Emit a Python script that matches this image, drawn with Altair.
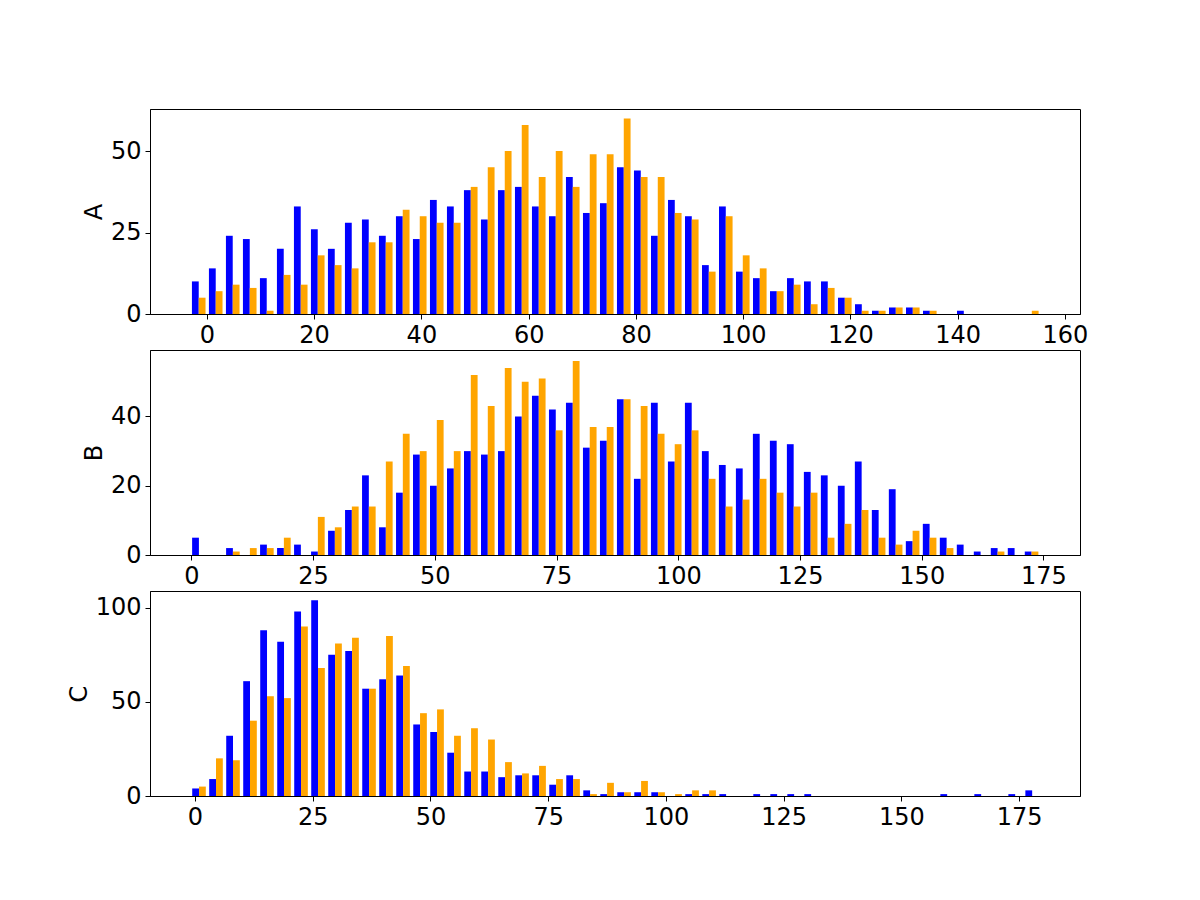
import altair as alt
import pandas as pd

# counts per bin (50 bins per panel), blue = first series, orange = second
a_blue = [10, 14, 24, 23, 11, 20, 33, 26, 20, 28, 29, 24, 30, 23, 35, 33, 38, 29, 38, 39,
          33, 30, 42, 31, 34, 45, 44, 24, 35, 30, 15, 33, 13, 11, 7, 11, 10, 10, 5, 3,
          1, 2, 2, 1, 0, 1, 0, 0, 0, 0]
a_orange = [5, 7, 9, 8, 1, 12, 9, 18, 15, 14, 22, 22, 32, 30, 28, 28, 39, 45, 50, 58,
            42, 50, 39, 49, 49, 60, 42, 42, 31, 29, 13, 30, 18, 14, 7, 9, 3, 8, 5, 1,
            1, 2, 2, 1, 0, 0, 0, 0, 0, 1]
b_blue = [5, 0, 2, 0, 3, 2, 3, 1, 7, 13, 23, 8, 18, 29, 20, 25, 30, 29, 30, 40,
          46, 42, 44, 31, 33, 45, 22, 44, 27, 44, 30, 26, 25, 35, 33, 32, 24, 23, 20, 27,
          13, 19, 4, 9, 5, 3, 1, 2, 2, 1]
b_orange = [0, 0, 1, 2, 2, 5, 0, 11, 8, 14, 14, 27, 35, 30, 39, 30, 52, 43, 54, 50,
            51, 36, 56, 37, 37, 45, 43, 35, 32, 36, 22, 14, 16, 22, 18, 14, 18, 5, 9, 13,
            5, 3, 7, 5, 2, 0, 0, 1, 0, 1]
c_blue = [4, 9, 32, 61, 88, 82, 98, 104, 75, 77, 57, 62, 64, 38, 34, 23, 13, 13, 10, 11,
          11, 6, 11, 3, 1, 2, 2, 2, 0, 1, 1, 1, 0, 1, 1, 1, 1, 0, 0, 0,
          0, 0, 0, 0, 1, 0, 1, 0, 1, 3]
c_orange = [5, 20, 19, 40, 53, 52, 90, 68, 81, 84, 57, 85, 69, 44, 46, 32, 36, 30, 18, 12,
            16, 9, 9, 1, 7, 2, 8, 2, 1, 3, 3, 0, 0, 0, 0, 0, 0, 0, 0, 0,
            0, 0, 0, 0, 0, 0, 0, 0, 0, 0]

panels = [
    # name, blue, orange, bin start, bin width, x domain, x ticks, y domain, y ticks
    ("A", a_blue, a_orange, -3.1, 3.17, [-10.6, 162.8], list(range(0, 161, 20)), [0, 62.9], [0, 25, 50]),
    ("B", b_blue, b_orange, -0.2, 3.49, [-8.5, 182.5], list(range(0, 176, 25)), [0, 59.2], [0, 20, 40]),
    ("C", c_blue, c_orange, -0.95, 3.61, [-9.55, 187.9], list(range(0, 176, 25)), [0, 108.9], [0, 50, 100]),
]


def make_panel(name, blue, orange, start, w, xdom, xticks, ydom, yticks):
    rows = []
    for i, (b, o) in enumerate(zip(blue, orange)):
        left = start + i * w
        if b:
            rows.append({"x": left + 0.1 * w, "x2": left + 0.5 * w, "n": b, "s": "blue"})
        if o:
            rows.append({"x": left + 0.5 * w, "x2": left + 0.9 * w, "n": o, "s": "orange"})
    df = pd.DataFrame(rows)
    return alt.Chart(df).mark_bar().encode(
        x=alt.X("x:Q", scale=alt.Scale(domain=xdom, nice=False, zero=False),
                axis=alt.Axis(values=xticks, title=None, format="d")),
        x2="x2:Q",
        y=alt.Y("n:Q", scale=alt.Scale(domain=ydom, nice=False),
                axis=alt.Axis(values=yticks, title=name)),
        y2=alt.datum(0),
        color=alt.Color("s:N", scale=alt.Scale(domain=["blue", "orange"],
                                               range=["#0000ff", "#ffa500"]), legend=None),
    ).properties(width=930, height=205)


chart = alt.vconcat(*[make_panel(*p) for p in panels], spacing=1).properties(
    padding={"left": 58, "top": 100, "right": 10, "bottom": 10}
).configure_axis(
    grid=False,
    labelFontSize=24,
    titleFontSize=24,
    titleFontWeight="normal",
    labelFont="DejaVu Sans",
    titleFont="DejaVu Sans",
    labelColor="black",
    titleColor="black",
    domainColor="black",
    tickColor="black",
    tickSize=5,
    labelPadding=4,
).configure_view(stroke="black", strokeWidth=1)

chart.save("out.html", embed_options={"renderer": "svg", "actions": False})
